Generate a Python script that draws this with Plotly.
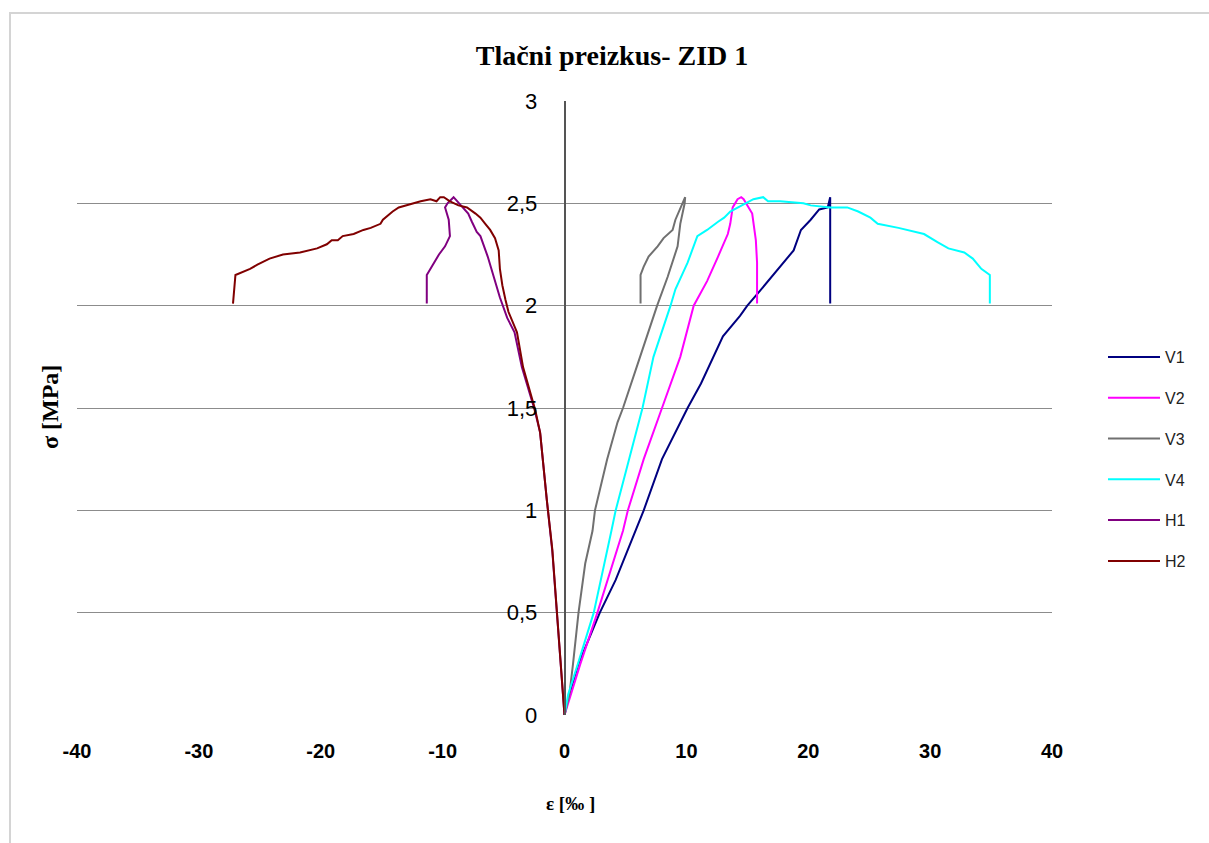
import plotly.graph_objects as go

# ---- data (strain ‰, stress MPa) ----
v1_x = [0, 0.4, 1.15, 2.9, 4.2, 5.8, 6.5, 8.0, 10.1, 11.2, 12.2, 13.0, 14.4, 15.0, 16.0, 17.7, 18.8, 19.4, 20.2, 20.9, 21.6, 21.8, 21.8]
v1_y = [0, 0.1, 0.25, 0.5, 0.66, 0.9, 1.0, 1.25, 1.5, 1.62, 1.75, 1.85, 1.95, 2.0, 2.07, 2.19, 2.27, 2.37, 2.42, 2.47, 2.48, 2.53, 2.01]

v2_x = [0, 0.5, 1.3, 2.7, 4.8, 5.2, 6.5, 8.0, 9.5, 10.6, 11.7, 12.6, 13.4, 13.6, 13.8, 14.2, 14.5, 14.7, 15.1, 15.4, 15.7, 15.8, 15.8]
v2_y = [0, 0.1, 0.25, 0.5, 0.9, 1.0, 1.25, 1.5, 1.75, 2.0, 2.12, 2.24, 2.35, 2.40, 2.48, 2.52, 2.53, 2.52, 2.48, 2.45, 2.32, 2.21, 2.01]

v3_x = [0, 0.4, 0.7, 1.15, 1.7, 2.3, 2.5, 3.5, 4.35, 4.8, 6.2, 7.6, 8.46, 9.28, 9.5, 9.86, 9.9, 9.55, 9.1, 8.87, 8.13, 7.64, 6.9, 6.49, 6.24, 6.24]
v3_y = [0, 0.1, 0.25, 0.5, 0.74, 0.9, 1.0, 1.25, 1.43, 1.5, 1.75, 2.0, 2.14, 2.29, 2.40, 2.50, 2.53, 2.48, 2.42, 2.37, 2.33, 2.29, 2.24, 2.19, 2.15, 2.01]

v4_x = [0, 0.3, 1.1, 2.4, 3.85, 4.2, 5.3, 6.4, 7.3, 8.0, 8.7, 9.1, 10.1, 10.9, 11.7, 12.6, 13.1, 13.6, 14.5, 15.5, 16.3, 16.7, 17.7, 19.6, 20.2, 21.8, 23.2, 24.1, 25.1, 25.7, 27.4, 28.2, 29.5, 30.6, 31.5, 32.8, 33.5, 34.2, 34.9, 34.9]
v4_y = [0, 0.1, 0.25, 0.5, 0.9, 1.0, 1.25, 1.5, 1.75, 1.87, 2.0, 2.08, 2.21, 2.34, 2.37, 2.41, 2.43, 2.46, 2.49, 2.52, 2.53, 2.51, 2.51, 2.50, 2.49, 2.48, 2.48, 2.46, 2.43, 2.40, 2.38, 2.37, 2.35, 2.31, 2.28, 2.26, 2.23, 2.18, 2.15, 2.01]

h1_x = [0, -0.2, -0.6, -1.0, -1.45, -2.0, -2.45, -3.5, -4.1, -4.7, -5.3, -5.8, -6.3, -6.9, -7.2, -7.6, -7.9, -8.5, -9.1, -9.6, -9.8, -9.5, -9.4, -9.8, -10.3, -10.8, -11.3, -11.3]
h1_y = [0, 0.17, 0.5, 0.8, 1.05, 1.38, 1.49, 1.70, 1.87, 1.94, 2.04, 2.14, 2.24, 2.34, 2.36, 2.41, 2.45, 2.49, 2.53, 2.50, 2.48, 2.42, 2.34, 2.29, 2.25, 2.20, 2.15, 2.01]

h2_x = [0, -0.2, -0.6, -1.0, -1.45, -2.0, -2.4, -3.4, -3.9, -4.6, -4.85, -5.1, -5.3, -5.4, -5.7, -6.1, -6.5, -6.9, -7.3, -8.0, -8.7, -9.4, -9.9, -10.2, -10.5, -11.0, -11.8, -12.9, -13.6, -14.1, -14.9, -15.1, -15.9, -16.5, -17.3, -18.2, -18.6, -19.1, -19.5, -20.3, -21.7, -23.1, -24.2, -25.2, -25.8, -27.0, -27.2]
h2_y = [0, 0.17, 0.5, 0.81, 1.05, 1.38, 1.49, 1.70, 1.87, 1.97, 2.03, 2.10, 2.18, 2.27, 2.33, 2.37, 2.40, 2.43, 2.45, 2.48, 2.49, 2.51, 2.53, 2.53, 2.51, 2.52, 2.51, 2.49, 2.48, 2.46, 2.42, 2.40, 2.38, 2.37, 2.35, 2.34, 2.32, 2.32, 2.30, 2.28, 2.26, 2.25, 2.23, 2.20, 2.18, 2.15, 2.01]

x_ticks = [-40, -30, -20, -10, 0, 10, 20, 30, 40]
x_tick_text = ["-40", "-30", "-20", "-10", "0", "10", "20", "30", "40"]

series = [
    ("V1", v1_x, v1_y, "#000080"),
    ("V2", v2_x, v2_y, "#FF00FF"),
    ("V3", v3_x, v3_y, "#707070"),
    ("V4", v4_x, v4_y, "#00FFFF"),
    ("H1", h1_x, h1_y, "#800080"),
    ("H2", h2_x, h2_y, "#800000"),
]

fig = go.Figure()
for name, xs, ys, col in series:
    fig.add_trace(go.Scatter(x=xs, y=ys, mode="lines", name=name, legendgroup=name,
                             line=dict(color=col, width=2)))

W, H = 1209, 843
L, R, T, B = 77, 1052, 101, 715
pw, ph = R - L, B - T

def px(xp):
    return (xp - L) / pw

def py(yp):
    return (B - yp) / ph

fig.update_layout(
    width=W, height=H,
    margin=dict(l=L, r=W - R, t=T, b=H - B),
    paper_bgcolor="white", plot_bgcolor="white",
    separators=", ",
    showlegend=True,
    title=dict(text="<b>Tlačni preizkus- ZID 1</b>", x=612 / W, xanchor="center",
               y=1 - 55 / H, yanchor="middle",
               font=dict(family="Liberation Serif", size=28, color="black")),
    xaxis=dict(range=[-40, 40], tickmode="array", tickvals=x_ticks, ticktext=x_tick_text,
               showgrid=False, zeroline=False,
               showline=False, ticks="", ticklabelstandoff=22,
               tickfont=dict(family="Liberation Sans", size=20, color="black", weight="bold")),
    yaxis=dict(range=[0, 3], dtick=0.5, tick0=0, showgrid=True, gridcolor="#8c8c8c", gridwidth=1,
               zeroline=False, showline=True, linecolor="#555555", linewidth=1.5,
               anchor="free", position=0.5, side="left", ticks="", ticklabelstandoff=22,
               tickfont=dict(family="Liberation Sans", size=22, color="black")),
    legend=dict(x=px(1103), xanchor="left", y=py(340), yanchor="top",
                font=dict(family="Liberation Sans", size=16, color="#222222"),
                tracegroupgap=17, itemwidth=52, bgcolor="rgba(0,0,0,0)"),
    annotations=[
        dict(text="<b>σ [MPa]</b>", x=px(50), y=py(407), xref="paper", yref="paper",
             textangle=-90, showarrow=False, xanchor="center", yanchor="middle",
             font=dict(family="Liberation Serif", size=24, color="black")),
        dict(text="<b>ε [‰ ]</b>", x=px(570), y=py(803), xref="paper", yref="paper",
             showarrow=False, xanchor="center", yanchor="middle",
             font=dict(family="Liberation Serif", size=19, color="black")),
    ],
    shapes=[
        dict(type="rect", xref="paper", yref="paper", x0=px(10), x1=px(1220), y0=py(860), y1=py(13),
             line=dict(color="#d4d4d4", width=2), fillcolor="rgba(0,0,0,0)", layer="below"),
    ],
)

fig.write_html("out.html")
